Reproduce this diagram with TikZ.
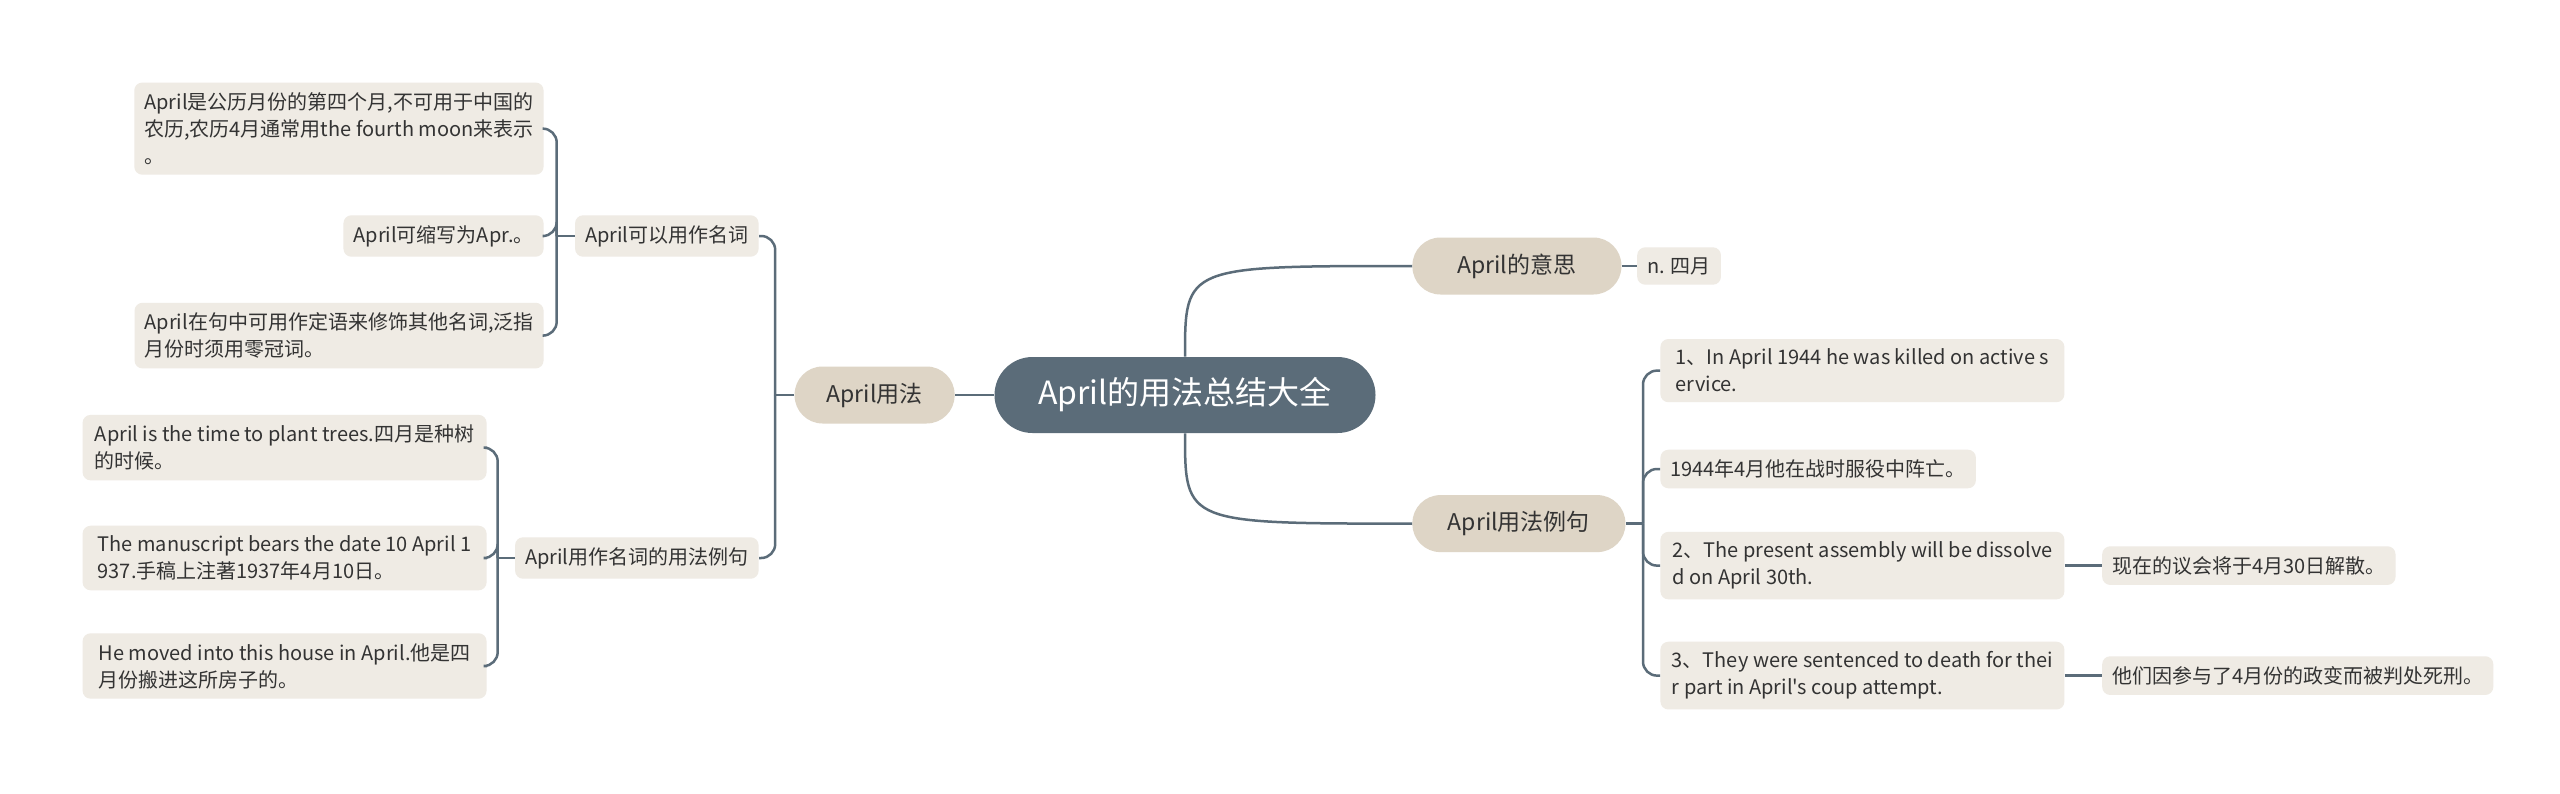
\documentclass[tikz,border=0pt]{standalone}
\usepackage{fontspec}
\setmainfont{Noto Sans CJK SC}[Ligatures=TeXOff]
\usetikzlibrary{positioning}
\definecolor{slate}{HTML}{5B6C79}
\definecolor{sand}{HTML}{DED5C6}
\definecolor{paper}{HTML}{EFEBE4}
\definecolor{ink}{HTML}{333333}
\tikzset{
  root/.style={fill=slate,text=white,rounded corners=19pt,minimum width=190.5pt,
    minimum height=38pt,font=\fontsize{16}{19}\selectfont},
  topic/.style={fill=sand,text=ink,rounded corners=14pt,minimum height=28.5pt,
    inner xsep=12pt,font=\fontsize{11.5}{13}\selectfont},
  leaf/.style={fill=paper,text=ink,rounded corners=4pt,align=left,
    inner xsep=5pt,inner ysep=5pt,font=\fontsize{10}{13.5}\selectfont},
  wide/.style={leaf,minimum width=202pt},
  link/.style={draw=slate,line width=1.25pt,rounded corners=7pt}
}

\begin{document}
\begin{tikzpicture}[x=1pt,y=1pt]
\fill[white] (0,0) rectangle (1280,-396.5);
\useasboundingbox (0,0) rectangle (1280,-396.5);

% centre and main branches
\node[root] (root) at (592.5,-197.5) {April的用法总结大全};
\node[topic,anchor=west,minimum width=104.5pt] (mean) at (706,-133) {April的意思};
\node[leaf,right=7.5pt of mean] (cn) {n. 四月};
\node[topic,anchor=west,minimum width=106.5pt] (lie) at (706,-261.8) {April用法例句};
\node[topic,anchor=east,minimum width=80pt] (use) at (477.5,-197.5) {April用法};
\draw[link] (root.west) -- (use.east);
\draw[link] (root.north) .. controls (root.north |- mean.west) .. (mean.west);
\draw[link] (root.south) .. controls (root.south |- lie.west) .. (lie.west);
\draw[link] (mean) -- (cn);

% left side
\node[leaf,anchor=east] (asnoun) at (379.5,-118) {April可以用作名词};
\node[leaf,anchor=east] (nounex) at (379.5,-279) {April用作名词的用法例句};
\draw[link] (use.west) -- ++(-9.5,0) coordinate (ju);
\foreach \n in {asnoun,nounex} \draw[link] (ju) |- (\n.east);

\node[wide,anchor=east] (lunar) at (272,-64.3)
  {April是公历月份的第四个月,不可用于中国的\\农历,农历4月通常用the fourth moon来表示\\。};
\node[leaf,anchor=east] (abbr) at (272,-118) {April可缩写为Apr.。};
\node[wide,anchor=east] (attrib) at (272,-167.8)
  {April在句中可用作定语来修饰其他名词,泛指\\月份时须用零冠词。};
\draw[link] (asnoun.west) -- ++(-9,0) coordinate (jn);
\foreach \n in {lunar,abbr,attrib} \draw[link] (jn) |- (\n.east);

\node[wide,anchor=east] (trees) at (243.5,-223.8)
  {April is the time to plant trees.四月是种树\\的时候。};
\node[wide,anchor=east] (manuscript) at (243.5,-279)
  {The manuscript bears the date 10 April 1\\937.手稿上注著1937年4月10日。};
\node[wide,anchor=east] (house) at (243.5,-333)
  {He moved into this house in April.他是四\\月份搬进这所房子的。};
\draw[link] (nounex.west) -- ++(-8.5,0) coordinate (je);
\foreach \n in {trees,manuscript,house} \draw[link] (je) |- (\n.east);

% right side
\node[wide,anchor=west] (killed) at (830,-185.3)
  {1、In April 1944 he was killed on active s\\ervice.};
\node[leaf,anchor=west] (killedzh) at (830,-234.5) {1944年4月他在战时服役中阵亡。};
\node[wide,anchor=west] (dissolve) at (830,-282.8)
  {2、The present assembly will be dissolve\\d on April 30th.};
\node[wide,anchor=west] (coup) at (830,-337.8)
  {3、They were sentenced to death for thei\\r part in April's coup attempt.};
\node[leaf,right=18.5pt of dissolve] (dissolvezh) {现在的议会将于4月30日解散。};
\node[leaf,right=18.5pt of coup] (coupzh) {他们因参与了4月份的政变而被判处死刑。};
\draw[link] (lie.east) -- (821.5,-261.8) coordinate (jl);
\foreach \n in {killed,killedzh,dissolve,coup} \draw[link] (jl) |- (\n.west);
\draw[link] (dissolve) -- (dissolvezh);
\draw[link] (coup) -- (coupzh);
\end{tikzpicture}
\end{document}
